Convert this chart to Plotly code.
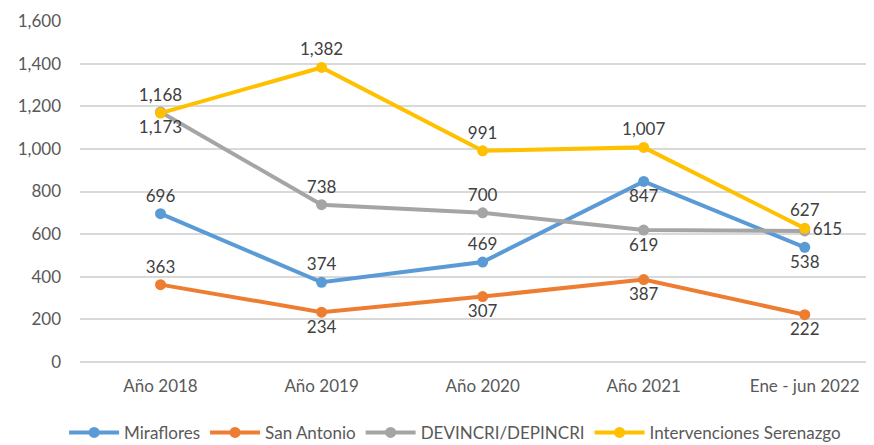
import plotly.graph_objects as go

categories = ["Año 2018", "Año 2019", "Año 2020", "Año 2021", "Ene - jun 2022"]
miraflores = [696, 374, 469, 847, 538]
san_antonio = [363, 234, 307, 387, 222]
devincri = [1173, 738, 700, 619, 615]
serenazgo = [1168, 1382, 991, 1007, 627]

series = [
    ("Miraflores", miraflores, "#5B9BD5", ["top center", "top center", "top center", "bottom center", "bottom center"]),
    ("San Antonio", san_antonio, "#ED7D31", ["top center", "bottom center", "bottom center", "bottom center", "bottom center"]),
    ("DEVINCRI/DEPINCRI", devincri, "#A5A5A5", ["bottom center", "top center", "top center", "bottom center", "middle right"]),
    ("Intervenciones Serenazgo", serenazgo, "#FFC000", ["top center"] * 5),
]

FONT = "Lato"
fig = go.Figure()
for name, vals, color, pos in series:
    fig.add_trace(go.Scatter(
        x=categories, y=vals, name=name, mode="lines+markers+text",
        line=dict(color=color, width=4),
        marker=dict(color=color, size=11),
        text=[f"{v:,}" for v in vals],
        textposition=pos,
        textfont=dict(family=FONT, size=17, color="#404040"),
        cliponaxis=False,
    ))

# page body has an 8px margin: figure spans (8,8)-(874,445)
fig.update_layout(
    width=866, height=437,
    margin=dict(l=72, r=0, t=13, b=83, autoexpand=False),
    plot_bgcolor="white", paper_bgcolor="white",
    font=dict(family=FONT, size=17, color="#595959"),
    showlegend=True,
    legend=dict(orientation="h", x=-0.02, xanchor="left",
                y=-0.208, yanchor="middle",
                font=dict(family=FONT, size=17, color="#595959"),
                itemwidth=50),
    xaxis=dict(type="category", range=[-0.5, 4.43], showgrid=False,
               showline=False, ticks="", tickangle=0, ticklabelstandoff=12,
               tickfont=dict(size=17, color="#595959")),
    yaxis=dict(range=[0, 1600], dtick=200, tickformat=",", showgrid=True,
               gridcolor="#D9D9D9", gridwidth=1.5, zeroline=True, zerolinecolor="#D9D9D9",
               zerolinewidth=1.5, showline=False, ticks="", ticklabelstandoff=18,
               tickfont=dict(size=17, color="#595959")),
)

fig.write_html("out.html")
